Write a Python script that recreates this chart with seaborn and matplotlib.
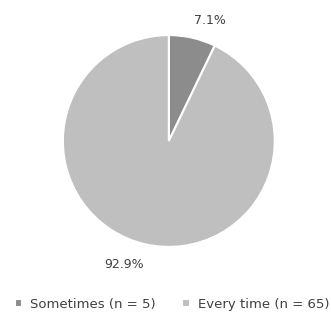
import matplotlib
matplotlib.use("Agg")
import matplotlib.pyplot as plt
import seaborn as sns

categories = ["Sometimes (n = 5)", "Every time (n = 65)"]
counts = [5, 65]
colors = ["#8c8c8c", "#bfbfbf"]
# where the data labels sit (Excel-style offset), in pie radius units
label_pos = [(0.39, 1.14), (-0.42, -1.17)]

sns.set_style("white")
plt.rcParams["font.family"] = ["DejaVu Sans"]

fig = plt.figure(figsize=(3.31, 3.13), dpi=100)
ax = fig.add_axes([0.19, 0.211, 0.64, 0.677])

wedges, texts, autotexts = ax.pie(
    counts, colors=colors, startangle=90, counterclock=False,
    autopct="%.1f%%", pctdistance=1.18,
    wedgeprops=dict(edgecolor="white", linewidth=1.5),
    textprops=dict(color="#404040", fontsize=9))
ax.set_xlim(-1, 1)
ax.set_ylim(-1, 1)
ax.set_aspect("equal")
ax.set_axis_off()
for t, pos in zip(autotexts, label_pos):
    t.set_position(pos)
    t.set_clip_on(False)

fig.legend(wedges, categories, loc="lower center", ncol=2, frameon=False,
           bbox_to_anchor=(0.52, -0.03), fontsize=9.5, handlelength=0.6,
           handleheight=0.6, columnspacing=2.0, handletextpad=0.6,
           labelcolor="#404040")

fig.savefig("out.png", dpi=100)
